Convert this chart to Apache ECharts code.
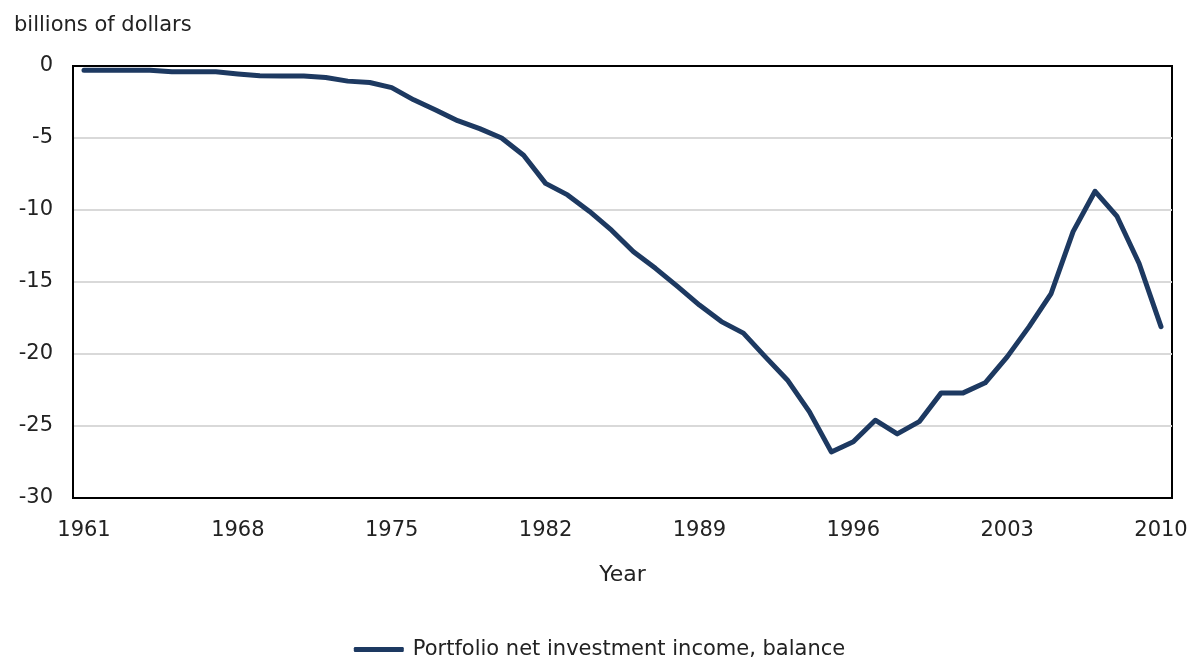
<!DOCTYPE html>
<html>
<head>
<meta charset="utf-8">
<script src="https://cdn.jsdelivr.net/npm/echarts@6/dist/echarts.min.js"></script>
<style>
  html, body { margin: 0; padding: 0; background: #fff; }
  #chart { width: 1199px; height: 658px; }
</style>
</head>
<body>
<div id="chart"></div>
<script>
// years 1961 - 2010
var years = [];
for (var y = 1961; y <= 2010; y++) years.push(String(y));

// portfolio net investment income, balance (billions of dollars)
var balance = [
  -0.3, -0.3, -0.3, -0.3, -0.4, -0.4, -0.4, -0.55, -0.67, -0.7,
  -0.7, -0.8, -1.05, -1.15, -1.5, -2.35, -3.05, -3.8, -4.35, -5.0,
  -6.2, -8.15, -8.95, -10.1, -11.4, -12.9, -14.05, -15.3, -16.6, -17.75,
  -18.55, -20.2, -21.8, -24.0, -26.8, -26.1, -24.6, -25.55, -24.7, -22.7,
  -22.7, -22.0, -20.2, -18.1, -15.8, -11.5, -8.7, -10.45, -13.7, -18.1
];

var seriesName = 'Portfolio net investment income, balance';
var font = 'DejaVu Sans, Verdana, sans-serif';

var chart = echarts.init(document.getElementById('chart'));
chart.setOption({
  animation: false,
  backgroundColor: '#fff',
  title: {
    text: 'billions of dollars',
    left: 9, top: 10,
    textStyle: { fontFamily: font, fontSize: 21, fontWeight: 'normal', color: '#222' }
  },
  grid: {
    left: 73, right: 27, top: 66, bottom: 160,
    show: true, borderColor: '#000', borderWidth: 2
  },
  legend: {
    top: 634, left: 'center',
    itemWidth: 50, itemHeight: 5, itemGap: 10,
    icon: 'roundRect',
    data: [seriesName],
    textStyle: { fontFamily: font, fontSize: 21, color: '#222', padding: [0, 0, 0, 4] }
  },
  xAxis: [{
    type: 'category',
    data: years,
    boundaryGap: true,
    name: 'Year',
    nameLocation: 'middle',
    nameGap: 66,
    nameTextStyle: { fontFamily: font, fontSize: 22, color: '#222' },
    axisLine: { show: true, onZero: false, lineStyle: { color: '#000', width: 2 } },
    axisTick: { show: false },
    axisLabel: {
      interval: 6, margin: 22,
      fontFamily: font, fontSize: 21, color: '#222'
    }
  }, {
    // top border of the plot box
    type: 'category',
    data: years,
    position: 'top',
    axisLine: { show: true, onZero: false, lineStyle: { color: '#000', width: 2 } },
    axisTick: { show: false },
    axisLabel: { show: false },
    splitLine: { show: false }
  }],
  yAxis: {
    type: 'value',
    min: -30, max: 0, interval: 5,
    axisLine: { show: true, lineStyle: { color: '#000', width: 2 } },
    axisTick: { show: false },
    axisLabel: { margin: 20, fontFamily: font, fontSize: 21, color: '#222' },
    splitLine: { lineStyle: { color: '#d9d9d9', width: 2 } }
  },
  series: [{
    name: seriesName,
    type: 'line',
    data: balance,
    symbol: 'none',
    lineStyle: { color: '#1d3961', width: 5, cap: 'round', join: 'round' },
    itemStyle: { color: '#1d3961' }
  }]
});
</script>
</body>
</html>
